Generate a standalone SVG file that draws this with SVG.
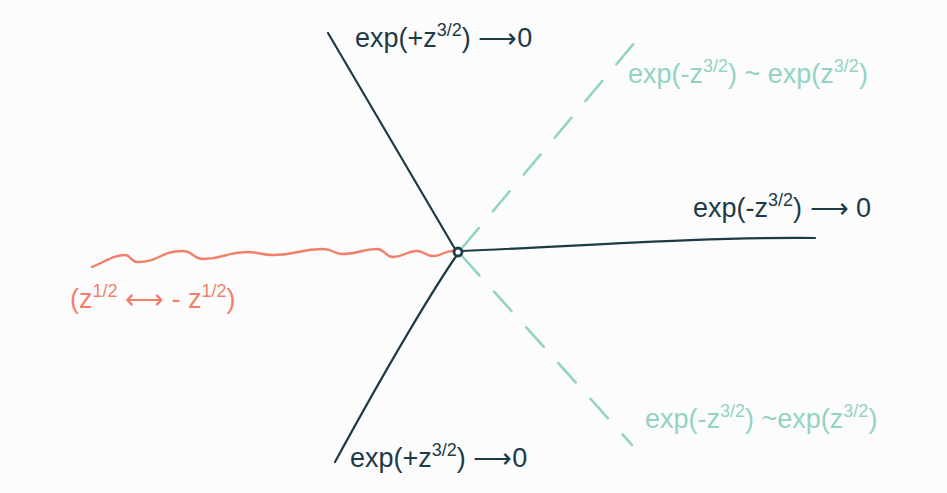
<svg xmlns="http://www.w3.org/2000/svg" width="947" height="493" viewBox="0 0 947 493">
<style>
.dark{stroke:#1d3a47;stroke-width:2.2;fill:none;stroke-linecap:round}
.teal{stroke:#92d3c3;stroke-width:2.6;fill:none;stroke-dasharray:26 22;stroke-linecap:round}
.coral{stroke:#f27f69;stroke-width:2.4;fill:none;stroke-linecap:round}
text{font-family:"Liberation Sans",Arial,sans-serif;font-size:27px}
.sup{font-size:18px}
.td{fill:#1d3a47}.tt{fill:#92d3c3}.tc{fill:#f27f69}
</style>
<rect width="947" height="493" fill="#fcfcfc"/>
<g id="connectors">
<path class="dark" d="M328,33 C365,95 405,165 455,249"/>
<path class="dark" d="M457,255 C438,282 395,352 335,462"/>
<path class="dark" d="M462,251 C580,246 700,237 815,238"/>
<path class="teal" d="M462,248 L635,42"/>
<path class="teal" d="M462,256 L632,445"/>
<path class="coral" d="M92,267 C108,260 115,255 125,255 C131,255 131,262 137,262 C160,262 160,251 183,251 C193,251 193,259 203,259 C225,259 225,252 247,252 C260,252 260,255 273,255 C298,255 298,249 323,249 C333,249 333,254 343,254 C360,254 360,249 377,249 C385,249 385,257 393,257 C405,257 405,251 417,251 C425,251 425,256 433,256 C443,256 443,251 453,251"/>
</g>
<g id="origin"><circle cx="458" cy="252" r="4" fill="#fcfcfc" stroke="#1d3a47" stroke-width="2.8"/></g>
<g id="label-top"><text class="td" x="355" y="47">exp(+z<tspan class="sup" dy="-11">3/2</tspan><tspan dy="11">) ⟶0</tspan></text></g>
<g id="label-top-right"><text class="tt" x="628" y="83">exp(-z<tspan class="sup" dy="-11">3/2</tspan><tspan dy="11">) ~ exp(z</tspan><tspan class="sup" dy="-11">3/2</tspan><tspan dy="11">)</tspan></text></g>
<g id="label-right"><text class="td" x="693" y="217">exp(-z<tspan class="sup" dy="-11">3/2</tspan><tspan dy="11">) ⟶ 0</tspan></text></g>
<g id="label-left"><text class="tc" x="70" y="308">(z<tspan class="sup" dy="-11">1/2</tspan><tspan dy="11"> ⟷ - z</tspan><tspan class="sup" dy="-11">1/2</tspan><tspan dy="11">)</tspan></text></g>
<g id="label-bottom"><text class="td" x="350" y="467">exp(+z<tspan class="sup" dy="-11">3/2</tspan><tspan dy="11">) ⟶0</tspan></text></g>
<g id="label-bottom-right"><text class="tt" x="645" y="428">exp(-z<tspan class="sup" dy="-11">3/2</tspan><tspan dy="11">) ~exp(z</tspan><tspan class="sup" dy="-11">3/2</tspan><tspan dy="11">)</tspan></text></g>
</svg>
